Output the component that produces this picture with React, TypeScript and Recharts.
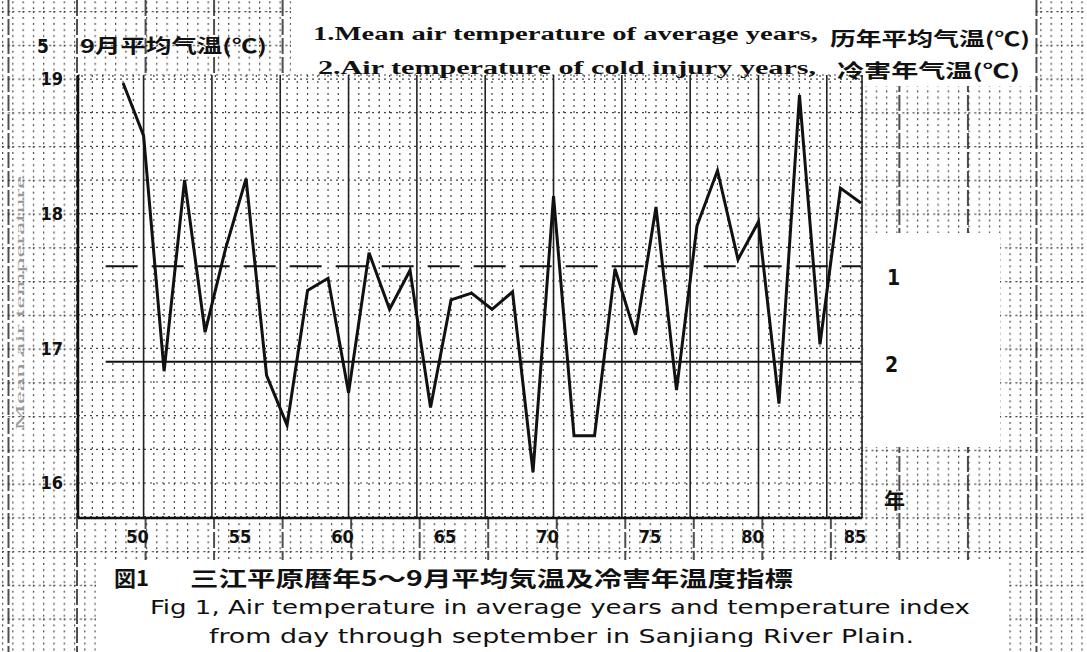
import React from 'react';
import { LineChart, Line, XAxis, YAxis, CartesianGrid, ReferenceLine } from 'recharts';

// years 1949-1985, May-September mean air temperature (°C)
const years = [
  1949, 1950, 1951, 1952, 1953, 1954, 1955, 1956, 1957, 1958,
  1959, 1960, 1961, 1962, 1963, 1964, 1965, 1966, 1967, 1968,
  1969, 1970, 1971, 1972, 1973, 1974, 1975, 1976, 1977, 1978,
  1979, 1980, 1981, 1982, 1983, 1984, 1985,
];
const meanTemp = [
  18.97, 18.58, 16.83, 18.25, 17.12, 17.74, 18.26, 16.80, 16.43, 17.43,
  17.52, 16.67, 17.71, 17.29, 17.58, 16.56, 17.36, 17.41, 17.29, 17.42,
  16.08, 18.13, 16.35, 16.35, 17.59, 17.10, 18.05, 16.69, 17.91, 18.32,
  17.66, 17.94, 16.59, 18.88, 17.03, 18.19, 18.08,
];
const avgYearsTemp = 17.61; // 1. mean of average years
const coldYearsTemp = 16.9; // 2. cold injury years
const yearTicks = [1950, 1955, 1960, 1965, 1970, 1975, 1980, 1985];
const tempTicks = [16, 17, 18, 19];

const xDomain: [number, number] = [1946.8, 1985.05];
const yDomain: [number, number] = [15.74, 19.03];
const refStart = 1948.15;
const refEnd = 1985;

// graph paper lines inside the plot
const fineX = Array.from({ length: 77 }, (_, i) => 1947 + i * 0.5);
const majorX = Array.from({ length: 11 }, (_, i) => 1950 + (i * 10) / 3);
const fineY = Array.from({ length: 14 }, (_, i) => 15.75 + i * 0.25);

const chartData = years.map((year, i) => ({ year, temp: meanTemp[i] }));

const serif = "'Liberation Serif', 'DejaVu Serif', serif";
const narrow = "'DejaVu Sans Condensed', 'Liberation Sans', sans-serif";
const cjk = "'Noto Sans CJK SC', 'Noto Sans CJK JP', sans-serif";
const cjkJp = "'Noto Sans CJK JP', 'Noto Sans CJK SC', sans-serif";

// the scanned page is printed on graph paper; blank patches where the page is clean
const blankPatches = [
  { x: 78, y: 75, w: 784, h: 443 }, // plot area, drawn by CartesianGrid
  { x: 291, y: 0, w: 744, h: 86 },
  { x: 865, y: 233, w: 135, h: 214 },
  { x: 96, y: 560, w: 912, h: 92 },
];

function GraphPaper() {
  return (
    <svg width={1087} height={652} style={{ position: 'absolute', left: 0, top: 0 }}>
      <defs>
        <pattern id="paperFine" patternUnits="userSpaceOnUse" x={2} y={11} width={10.28} height={33.75}>
          <line x1={0.6} y1={0} x2={0.6} y2={33.75} stroke="#444" strokeWidth={1.2} strokeDasharray="2 4" />
          <line x1={0} y1={0.6} x2={10.28} y2={0.6} stroke="#444" strokeWidth={1.2} strokeDasharray="2 4" />
        </pattern>
        <pattern id="paperMajor" patternUnits="userSpaceOnUse" x={7.5} y={0} width={68.53} height={652}>
          <line x1={1} y1={0} x2={1} y2={652} stroke="#222" strokeWidth={1.6} strokeDasharray="16 3" />
        </pattern>
      </defs>
      <rect width={1087} height={652} fill="url(#paperFine)" />
      <rect width={1087} height={652} fill="url(#paperMajor)" />
      {blankPatches.map((p, i) => (
        <rect key={i} x={p.x} y={p.y} width={p.w} height={p.h} fill="#fff" />
      ))}
    </svg>
  );
}

export default function App() {
  return (
    <div style={{ position: 'absolute', left: 0, top: 0, width: 1087, height: 652, background: '#fff', overflow: 'hidden' }}>
      <GraphPaper />
      <div style={{ position: 'absolute', left: 0, top: 0 }}>
        <LineChart
          width={1087}
          height={652}
          data={chartData}
          margin={{ top: 75, right: 225, bottom: 104, left: 38 }}
        >
          <XAxis xAxisId="fine" type="number" dataKey="year" domain={xDomain} ticks={fineX} interval={0} allowDataOverflow hide />
          <YAxis yAxisId="fine" type="number" domain={yDomain} ticks={fineY} interval={0} allowDataOverflow hide />
          <XAxis xAxisId="major" type="number" dataKey="year" domain={xDomain} ticks={majorX} interval={0} allowDataOverflow hide />
          <YAxis yAxisId="major" type="number" domain={yDomain} ticks={tempTicks} interval={0} allowDataOverflow hide />
          <CartesianGrid xAxisId="fine" yAxisId="fine" stroke="#444" strokeDasharray="2 4" strokeWidth={1.2} />
          <CartesianGrid xAxisId="major" yAxisId="major" horizontal={false} stroke="#222" strokeWidth={1.6} />

          <XAxis
            type="number"
            dataKey="year"
            domain={xDomain}
            ticks={yearTicks}
            interval={0}
            allowDataOverflow
            height={30}
            tickLine={false}
            tickSize={0}
            tickMargin={12}
            axisLine={{ stroke: '#111', strokeWidth: 2.5 }}
            tickFormatter={(v: number) => String(v).slice(2)}
            tick={{ fill: '#111', fontSize: 18, fontWeight: 700, fontFamily: narrow, dx: -6 }}
          />
          <YAxis
            type="number"
            domain={yDomain}
            ticks={tempTicks}
            interval={0}
            allowDataOverflow
            width={40}
            tickLine={false}
            tickSize={0}
            tickMargin={15}
            axisLine={{ stroke: '#111', strokeWidth: 2.5 }}
            tick={{ fill: '#111', fontSize: 18, fontWeight: 700, fontFamily: narrow }}
          />

          <ReferenceLine
            segment={[{ x: refStart, y: avgYearsTemp }, { x: refEnd, y: avgYearsTemp }]}
            stroke="#111"
            strokeWidth={2}
            strokeDasharray="32 14"
            label={{ value: '1', position: 'right', offset: 26, dy: 11, fill: '#111', fontSize: 21, fontWeight: 700, fontFamily: narrow }}
          />
          <ReferenceLine
            segment={[{ x: refStart, y: coldYearsTemp }, { x: refEnd, y: coldYearsTemp }]}
            stroke="#111"
            strokeWidth={2}
            label={{ value: '2', position: 'right', offset: 24, dy: 3, fill: '#111', fontSize: 21, fontWeight: 700, fontFamily: narrow }}
          />

          <Line
            type="linear"
            dataKey="temp"
            stroke="#111"
            strokeWidth={3}
            dot={false}
            isAnimationActive={false}
          />
        </LineChart>
      </div>

      <svg
        width={1087}
        height={652}
        style={{ position: 'absolute', left: 0, top: 0, pointerEvents: 'none' }}
      >
        <g fill="#111" fontWeight={700}>
          <text x={37} y={53} fontSize={19} fontFamily={narrow}>5</text>
          <text x={80} y={53} fontSize={19} fontFamily={cjk} textLength={187} lengthAdjust="spacingAndGlyphs">9月平均气温(℃)</text>

          <text x={313} y={40} fontSize={18} fontFamily={serif} textLength={505} lengthAdjust="spacingAndGlyphs">1.Mean air temperature of average years,</text>
          <text x={830} y={46} fontSize={19} fontFamily={cjk} textLength={200} lengthAdjust="spacingAndGlyphs">历年平均气温(℃)</text>
          <text x={318} y={74} fontSize={18} fontFamily={serif} textLength={498} lengthAdjust="spacingAndGlyphs">2.Air temperature of cold injury years,</text>
          <text x={837} y={78} fontSize={19} fontFamily={cjk} textLength={183} lengthAdjust="spacingAndGlyphs">冷害年气温(℃)</text>

          <text x={884} y={508} fontSize={21} fontFamily={cjk}>年</text>

          <text x={114} y={586} fontSize={21} fontFamily={cjkJp} textLength={35} lengthAdjust="spacingAndGlyphs">図1</text>
          <text x={190} y={586} fontSize={21} fontFamily={cjkJp} textLength={603} lengthAdjust="spacingAndGlyphs">三江平原暦年5～9月平均気温及冷害年温度指標</text>
          <text x={150} y={614} fontSize={19} fontWeight={400} fontFamily={narrow} textLength={820} lengthAdjust="spacingAndGlyphs">Fig 1, Air temperature in average years and temperature index</text>
          <text x={209} y={643} fontSize={19} fontWeight={400} fontFamily={narrow} textLength={705} lengthAdjust="spacingAndGlyphs">from day through september in Sanjiang River Plain.</text>
        </g>
        <text
          transform="translate(24 303) rotate(-90)"
          textAnchor="middle"
          fill="#999"
          fontSize={13}
          fontFamily={serif}
          textLength={255}
          lengthAdjust="spacingAndGlyphs"
        >
          Mean air temperature
        </text>
      </svg>
    </div>
  );
}
